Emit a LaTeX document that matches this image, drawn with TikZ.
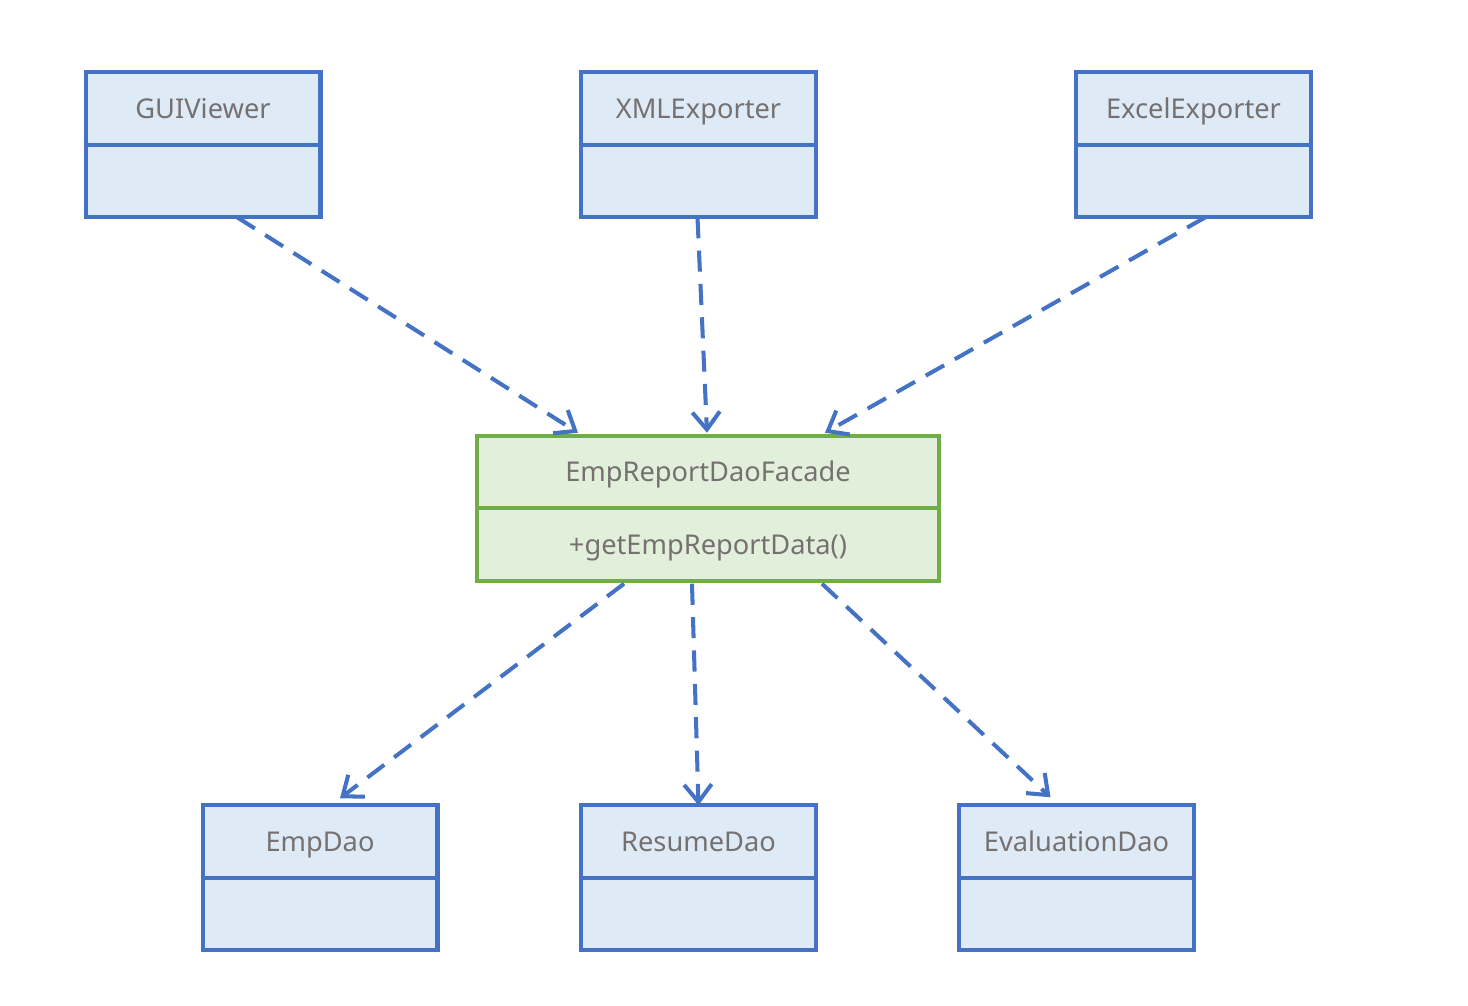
\documentclass[tikz,border=0pt]{standalone}
\usepackage{fontspec}
\setmainfont{Noto Sans}
\usetikzlibrary{positioning,calc,arrows.meta}
\definecolor{umlBlue}{HTML}{4472C4}
\definecolor{umlBlueFill}{HTML}{DEEAF6}
\definecolor{umlGreen}{HTML}{70AD47}
\definecolor{umlGreenFill}{HTML}{E2EFDA}
\definecolor{umlText}{HTML}{767171}
\def\boxWidth{4.7cm}
\def\partHeight{1.45cm}
\tikzset{
  classPart/.style={
    draw=umlBlue,
    fill=umlBlueFill,
    line width=2.3pt,
    minimum width=\boxWidth,
    minimum height=\partHeight,
    outer sep=0pt,
    inner sep=0pt,
    text height=11.2pt,
    text depth=0pt,
    text=umlText,
    font=\fontsize{15.5}{18}\selectfont
  },
  facadePart/.style={
    classPart,
    draw=umlGreen,
    fill=umlGreenFill,
    minimum width=9.24cm
  },
  dependency/.style={
    draw=umlBlue,
    line width=2.3pt,
    dash pattern=on 12pt off 7pt,
    -{Straight Barb[length=3.5mm,width=5.5mm]}
  }
}
\begin{document}
\begin{tikzpicture}[x=0.02cm,y=-0.02cm]
    \useasboundingbox (0,0) rectangle (1468,1006);

    % clients
    \node[classPart] (gui) at (203,108.5) {GUIViewer};
    \node[classPart,below=0pt of gui] (guiBody) {};
    \node[classPart] (xml) at (698.5,108.5) {XMLExporter};
    \node[classPart,below=0pt of xml] (xmlBody) {};
    \node[classPart] (excel) at (1193.5,108.5) {ExcelExporter};
    \node[classPart,below=0pt of excel] (excelBody) {};

    % facade
    \node[facadePart] (facade) at (708,472) {EmpReportDaoFacade};
    \node[facadePart,below=0pt of facade] (facadeBody) {+getEmpReportData()};

    % subsystem
    \node[classPart] (empDao) at (320,841.5) {EmpDao};
    \node[classPart,below=0pt of empDao] (empDaoBody) {};
    \node[classPart] (resumeDao) at (698.5,841.5) {ResumeDao};
    \node[classPart,below=0pt of resumeDao] (resumeDaoBody) {};
    \node[classPart] (evalDao) at (1076.5,841.5) {EvaluationDao};
    \node[classPart,below=0pt of evalDao] (evalDaoBody) {};

    \draw[dependency] ($(guiBody.south)+(34,0)$) -- ($(facade.north)+(-130,-3)$);
    \draw[dependency] ($(xmlBody.south)+(-1,0)$) -- ($(facade.north)+(-1,-3)$);
    \draw[dependency] ($(excelBody.south)+(12,0)$) -- ($(facade.north)+(117,-3)$);

    \draw[dependency] ($(facadeBody.south)+(-84,3)$) -- ($(empDao.north)+(20,-7)$);
    \draw[dependency] ($(facadeBody.south)+(-16,3)$) -- ($(resumeDao.north)+(0,0)$);
    \draw[dependency] ($(facadeBody.south)+(114,3)$) -- ($(evalDao.north)+(-26,-8)$);
\end{tikzpicture}
\end{document}
